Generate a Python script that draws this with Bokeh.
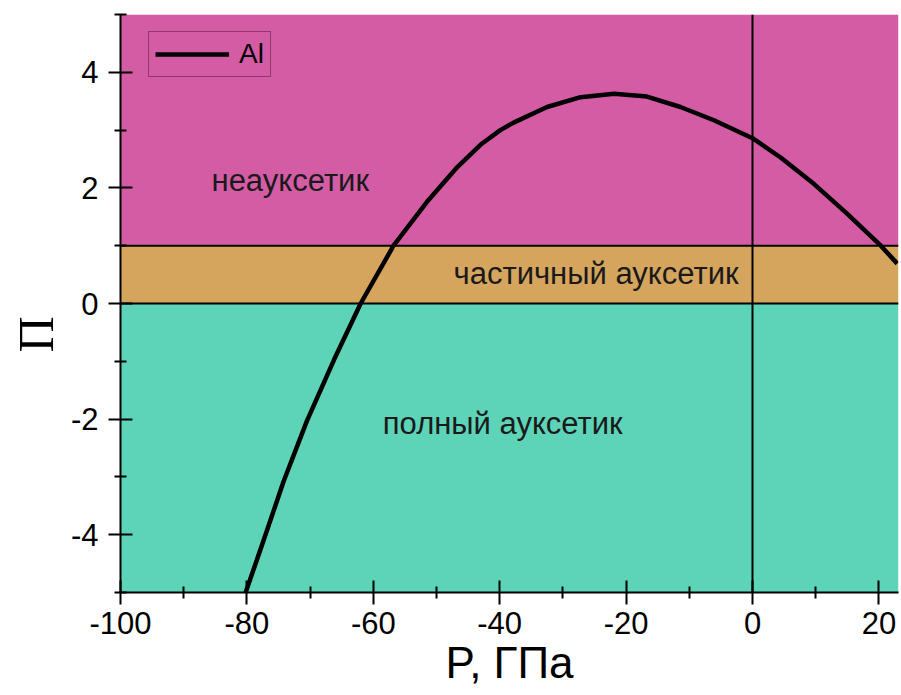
from bokeh.plotting import figure
from bokeh.models import FixedTicker, Range1d, Span, Title
from bokeh.core.properties import value
from bokeh.embed import file_html
from bokeh.resources import INLINE

# ---- data ----
pressure = [-80.2, -77.3, -74.2, -70.5, -66.2, -62.0, -56.8, -51.5, -46.7, -43.0,
            -39.9, -37.8, -32.5, -27.2, -21.9, -16.7, -11.4, -6.1, 0.0, 4.4, 9.7,
            15.0, 20.3, 22.9]
poisson_index = [-5.0, -4.08, -3.08, -2.03, -0.97, 0.0, 1.0, 1.76, 2.36, 2.75,
                 3.00, 3.13, 3.40, 3.57, 3.63, 3.58, 3.40, 3.17, 2.86, 2.53, 2.07,
                 1.55, 1.0, 0.69]

band_bottom = [-5, 0, 1]
band_top = [0, 1, 5]
band_colors = ["#5DD4B7", "#D5A55E", "#D45CA5"]
boundary_y = [0, 1]
boundary_x = [0]

region_names = ["неауксетик", "частичный ауксетик", "полный ауксетик"]
region_x = [-85.6, -47.3, -58.5]
region_y = [2.13, 0.52, -2.08]

x_major = [-100, -80, -60, -40, -20, 0, 20]
x_minor = [-90, -70, -50, -30, -10, 10]
y_major = [-4, -2, 0, 2, 4]
y_minor = [-5, -3, -1, 1, 3, 5]

X_MIN, X_MAX = -100, 23.1
Y_MIN, Y_MAX = -5, 5

FONT = "Liberation Sans"

p = figure(width=901, height=695, output_backend="svg", toolbar_location=None,
           x_range=Range1d(X_MIN, X_MAX), y_range=Range1d(Y_MIN, Y_MAX),
           min_border_left=120, min_border_right=3, min_border_top=14,
           min_border_bottom=103)
p.background_fill_color = "white"
p.border_fill_color = "white"
p.outline_line_color = None
p.xgrid.visible = False
p.ygrid.visible = False

# coloured bands
p.quad(left=[X_MIN] * len(band_bottom), right=[X_MAX] * len(band_bottom),
       bottom=band_bottom, top=band_top, fill_color=band_colors, line_color=None)

for yv in boundary_y:
    p.add_layout(Span(location=yv, dimension="width", line_color="black", line_width=2))
for xv in boundary_x:
    p.add_layout(Span(location=xv, dimension="height", line_color="black", line_width=2))

# region labels
p.text(x=region_x, y=region_y, text=region_names, text_font=value(FONT),
       text_font_size="31px", text_color="#1a1a1a", text_baseline="middle",
       text_align="left")

# curve
p.line(pressure, poisson_index, line_color="black", line_width=4.5,
       line_join="round", legend_label="Al")

# axes
for ax in (p.xaxis[0], p.yaxis[0]):
    ax.axis_line_width = 2
    ax.axis_line_color = "black"
    ax.major_tick_line_width = 2
    ax.minor_tick_line_width = 2
    ax.major_tick_in = 12
    ax.major_tick_out = 12
    ax.minor_tick_in = 6
    ax.minor_tick_out = 6
    ax.major_label_text_font = FONT
    ax.major_label_text_font_size = "31px"
    ax.major_label_text_color = "black"
    ax.axis_label_text_color = "black"
    ax.axis_label_text_font_style = "normal"

p.xaxis[0].major_label_standoff = 7
p.yaxis[0].major_label_standoff = 10

p.xaxis[0].ticker = FixedTicker(ticks=x_major, minor_ticks=x_minor)
p.yaxis[0].ticker = FixedTicker(ticks=y_major, minor_ticks=y_minor)
p.xaxis[0].major_label_overrides = {t: str(t) for t in x_major}
p.yaxis[0].major_label_overrides = {t: str(t) for t in y_major}

p.xaxis[0].axis_label = "P, ГПа"
p.xaxis[0].axis_label_text_font = FONT
p.xaxis[0].axis_label_text_font_size = "44px"
p.xaxis[0].axis_label_standoff = 1

# y-axis title, placed like the reference (slightly below the frame centre)
p.add_layout(Title(text="П", align="left", offset=240, standoff=8,
                   text_font="Liberation Serif", text_font_size="50px",
                   text_font_style="normal", text_color="black"), "left")

# legend
lg = p.legend[0]
lg.location = (28, 515)
lg.border_line_color = "#4a1535"
lg.border_line_width = 1
lg.background_fill_alpha = 0
lg.label_text_font = FONT
lg.label_text_font_size = "28px"
lg.label_text_color = "black"
lg.glyph_width = 74
lg.glyph_height = 24
lg.label_height = 24
lg.padding = 6
lg.margin = 0
lg.label_standoff = 10
lg.spacing = 0

open("out.html", "w").write(file_html(p, INLINE))
